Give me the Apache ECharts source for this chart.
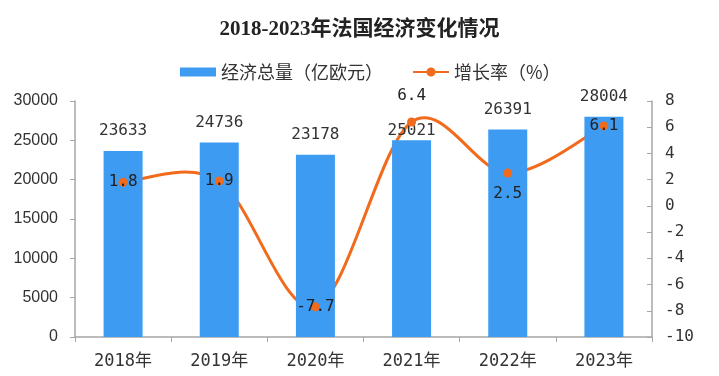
<!DOCTYPE html>
<html><head><meta charset="utf-8">
<script src="https://cdn.jsdelivr.net/npm/echarts@6/dist/echarts.min.js"></script>
<style>html,body{margin:0;padding:0;background:#fff}#c{width:719px;height:376px}</style>
</head><body><div id="c"></div>
<script>
const title = '2018-2023年法国经济变化情况';
const categories = ['2018年','2019年','2020年','2021年','2022年','2023年'];
const gdpName = '经济总量（亿欧元）';
const gdp = [23633, 24736, 23178, 25021, 26391, 28004];
const rateName = '增长率（%）';
const rate = [1.8, 1.9, -7.7, 6.4, 2.5, 6.1];
const ratePos = ['inside','inside','inside','top','bottom','inside'];

const ORANGE = '#f26a1b';
const BLUE = '#3d9bf2';
const numFont = '"DejaVu Sans Mono", monospace';

const chart = echarts.init(document.getElementById('c'));

// Smooth curve (Catmull-Rom style, tangent factor 1/6) drawn through the data via the axes' scales
function renderCurve(params, api) {
  const i = params.dataIndex;
  const n = rate.length;
  if (i >= n - 1) return null;
  const c = j => Math.max(0, Math.min(n - 1, j));
  const P = j => api.coord([c(j), rate[c(j)]]);
  const p0 = P(i - 1), p1 = P(i), p2 = P(i + 1), p3 = P(i + 2);
  const k = 1 / 6;
  return {
    type: 'bezierCurve',
    shape: {
      x1: p1[0], y1: p1[1], x2: p2[0], y2: p2[1],
      cpx1: p1[0] + (p2[0] - p0[0]) * k, cpy1: p1[1] + (p2[1] - p0[1]) * k,
      cpx2: p2[0] - (p3[0] - p1[0]) * k, cpy2: p2[1] - (p3[1] - p1[1]) * k
    },
    style: {stroke: ORANGE, lineWidth: 3, fill: null, lineCap: 'round'}
  };
}

chart.setOption({
  animation: false,
  backgroundColor: '#fff',
  title: {text: title, left: 'center', top: 14,
    textStyle: {fontSize: 21, fontWeight: 'bold', color: '#222', fontFamily: '"Liberation Serif","Noto Sans CJK SC",serif'}},
  legend: {top: 58, left: 175, itemGap: 30, itemWidth: 36, itemHeight: 9,
    textStyle: {fontSize: 18, color: '#333', fontFamily: '"Noto Sans CJK SC",sans-serif'},
    data: [
      {name: gdpName, icon: 'rect'},
      {name: rateName, icon: 'path://M0,3.6 L14,3.6 L14,5.4 L0,5.4 Z M22,3.6 L36,3.6 L36,5.4 L22,5.4 Z M13.5,4.5 A4.5,4.5 0 1 1 22.5,4.5 A4.5,4.5 0 1 1 13.5,4.5 Z',
        itemStyle: {color: ORANGE}}
    ]},
  grid: {left: 75, right: 67, top: 101, bottom: 39},
  xAxis: {type: 'category', data: categories,
    axisLine: {lineStyle: {color: '#a6a6a6', width: 1.5}},
    axisTick: {show: true, length: 5, lineStyle: {color: '#a6a6a6'}},
    axisLabel: {fontSize: 17, color: '#333', margin: 16, fontFamily: '"DejaVu Sans Mono","Noto Sans CJK SC",sans-serif'}},
  yAxis: [
    {type: 'value', min: 0, max: 30000, interval: 5000,
      axisLine: {show: true, lineStyle: {color: '#a6a6a6', width: 1.5}},
      axisTick: {show: true, length: 5, lineStyle: {color: '#a6a6a6'}},
      splitLine: {show: false},
      axisLabel: {fontSize: 16, color: '#333', margin: 17, fontFamily: '"Liberation Sans",sans-serif',
        formatter: v => String(v)}},
    {type: 'value', min: -10, max: 8, interval: 2,
      axisLine: {show: true, lineStyle: {color: '#a6a6a6', width: 1.5}},
      axisTick: {show: true, inside: true, length: 5, lineStyle: {color: '#a6a6a6'}},
      splitLine: {show: false},
      axisLabel: {fontSize: 16, color: '#333', margin: 13, fontFamily: numFont}}
  ],
  series: [
    {name: gdpName, type: 'bar', yAxisIndex: 0, barWidth: 39,
      data: gdp.map((v, i) => ({value: v, label: {distance: i === 3 ? 1 : 12}})),
      itemStyle: {color: BLUE},
      label: {show: true, position: 'top', fontSize: 16, color: '#333', fontFamily: numFont}},
    {name: 'curve', type: 'custom', yAxisIndex: 1, renderItem: renderCurve,
      data: rate.map((v, i) => [i, v]), encode: {x: 0, y: 1}, silent: true, z: 2, clip: false},
    {name: rateName, type: 'line', yAxisIndex: 1, z: 3,
      data: rate.map((v, i) => ({value: v, label: {position: ratePos[i], distance: i === 3 ? 14 : (i === 4 ? 8 : 5)}})),
      symbol: 'circle', symbolSize: 9,
      lineStyle: {color: ORANGE, width: 3, opacity: 0},
      itemStyle: {color: ORANGE},
      label: {show: true, fontSize: 16, color: '#222', fontFamily: numFont, textBorderWidth: 0}}
  ]
});
</script></body></html>
